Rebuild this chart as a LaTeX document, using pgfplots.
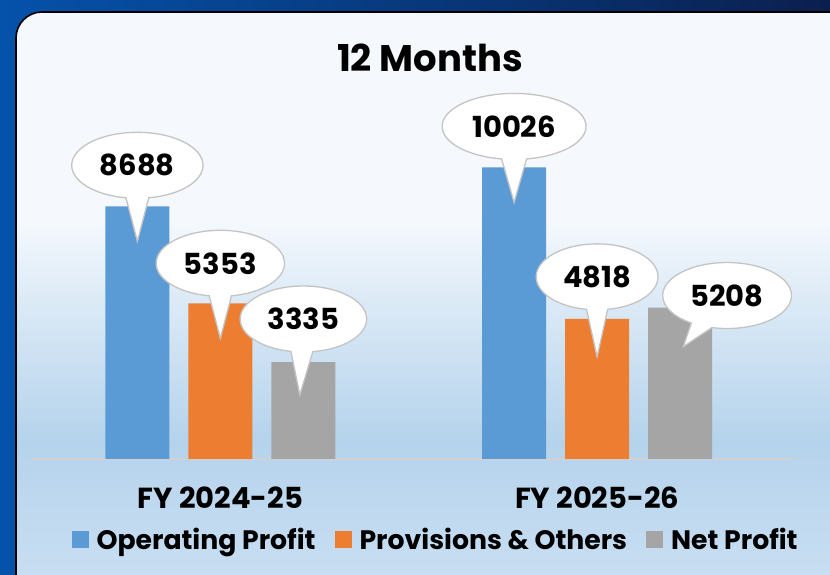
\documentclass[border=0pt]{standalone}
\usepackage{fontspec}
\setmainfont{Poppins}
\usepackage{pgfplots}
\usepackage{pgfplotstable}
\pgfplotsset{compat=1.18}
\usetikzlibrary{shapes.callouts}

\definecolor{opblue}{HTML}{5B9BD5}
\definecolor{provorange}{HTML}{ED7D31}
\definecolor{netgray}{HTML}{A5A5A5}
\definecolor{callgray}{HTML}{C4C4C4}
\definecolor{bgl}{HTML}{0552AB}
\definecolor{bgr}{HTML}{0B1F4E}
\definecolor{pbot}{HTML}{C8DEF2}
\definecolor{pmid}{HTML}{B5D3EC}
\definecolor{plt}{HTML}{DCEAF6}
\definecolor{ptop}{HTML}{F5F9FD}
\pgfdeclareverticalshading{panelshade}{100bp}{color(0bp)=(pbot); color(27.5bp)=(pbot); color(38.9bp)=(pmid); color(50.7bp)=(plt); color(57.5bp)=(ptop); color(100bp)=(ptop)}

% x y dx dy px py  (dx,dy: callout centre offset from bar top; px,py: pointer beyond the ellipse border)
\pgfplotstableread{
x y dx dy px py
0 8688 0 41 0 -43
1 10026 0 41 0 -43
}\opdata
\pgfplotstableread{
x y dx dy px py
0 5353 0 40 0 -42
1 4818 0 42 0 -47
}\provdata
\pgfplotstableread{
x y dx dy px py
0 3335 0 43 -2 -43
1 5208 47 12 -18 -21
}\netdata

\begin{document}
\begin{tikzpicture}[x=1pt,y=1pt]
\useasboundingbox (0,0) rectangle (830,575);
\shade[left color=bgl, right color=bgr] (0,0) rectangle (830,575);
\begin{scope}
\clip (0,0) rectangle (830,575);
\shade[shading=panelshade] [rounded corners=26pt] (16,-30) rectangle (860,563);
\draw[black, line width=1.6pt, rounded corners=26pt] (16,-30) rectangle (860,563);
\end{scope}
\node[font=\bfseries\fontsize{37}{42}\selectfont] at (430,517) {12 Months};

\begin{axis}[
  at={(32pt,116pt)}, anchor=south west,
  scale only axis, width=761pt, height=349pt,
  xmin=-0.5, xmax=1.52, ymin=0, ymax=12000,
  ybar=19pt, bar width=64pt,
  axis x line=bottom, axis y line=none,
  x axis line style={draw=black!18, line width=1.5pt, -},
  xtick={0,1}, xticklabels={FY 2024-25, FY 2025-26},
  major tick length=0pt,
  xticklabel style={font=\bfseries\fontsize{29}{32}\selectfont, anchor=center, yshift=-39pt},
  clip=false,
  /pgf/number format/assume math mode=true,
  /pgf/number format/1000 sep={},
  visualization depends on={\thisrow{dx} \as \cdx},
  visualization depends on={\thisrow{dy} \as \cdy},
  visualization depends on={\thisrow{px} \as \cpx},
  visualization depends on={\thisrow{py} \as \cpy},
  nodes near coords,
  every node near coord/.append style={shape=ellipse callout, draw=callgray, line width=1.3pt,
     fill=white, text=black, font=\bfseries\fontsize{29}{32}\selectfont,
     inner xsep=9pt, inner ysep=0pt, minimum height=66pt, anchor=center,
     callout pointer arc=20,
     xshift=\cdx pt, yshift=\cdy pt,
     /pgf/callout relative pointer={\pgfqpoint{\cpx pt}{\cpy pt}}},
  legend style={at={(rel axis cs:0.529,-0.232)}, anchor=center, draw=none, fill=none,
     font=\bfseries\fontsize{26.7}{30}\selectfont,
     nodes={inner xsep=0pt},
     /tikz/every odd column/.append style={column sep=8pt},
     /tikz/every even column/.append style={column sep=19pt}},
  legend columns=3,
  legend image code/.code={\fill[#1] (0pt,-8.5pt) rectangle (17pt,8.5pt);},
]
\addplot[fill=opblue, draw=none] table[x=x,y=y] {\opdata};
\addplot[fill=provorange, draw=none] table[x=x,y=y] {\provdata};
\addplot[fill=netgray, draw=none] table[x=x,y=y] {\netdata};
\legend{Operating Profit, Provisions \& Others, Net Profit}
\end{axis}
\end{tikzpicture}
\end{document}
